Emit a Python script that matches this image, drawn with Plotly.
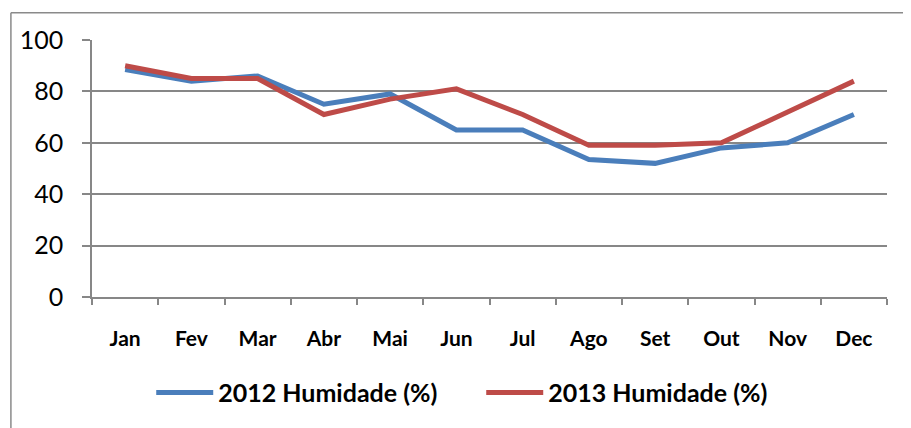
import plotly.graph_objects as go

months = ["Jan", "Fev", "Mar", "Abr", "Mai", "Jun", "Jul", "Ago", "Set", "Out", "Nov", "Dec"]
hum_2012 = [88.5, 84, 86, 75, 79, 65, 65, 53.5, 52, 58, 60, 71]
hum_2013 = [90, 85, 85, 71, 77, 81, 71, 59, 59, 60, 72, 84]
y_ticks = [0, 20, 40, 60, 80, 100]

blue = "#4A7EBB"
red = "#BE4B48"
grid = "#878787"
font = "Lato"

fig = go.Figure()
fig.add_trace(go.Scatter(x=months, y=hum_2012, mode="lines", name="2012 Humidade (%)",
                         line=dict(color=blue, width=5)))
fig.add_trace(go.Scatter(x=months, y=hum_2013, mode="lines", name="2013 Humidade (%)",
                         line=dict(color=red, width=5)))

# page body has an 8px margin, so the figure is 903x420 drawn at (8, 8)
fig.update_layout(
    width=903, height=420,
    margin=dict(l=82, r=24, t=31.5, b=128),
    paper_bgcolor="white", plot_bgcolor="white",
    font=dict(family=font, color="black"),
    showlegend=True,
    legend=dict(orientation="h", x=0.0745, xanchor="left", y=-0.373, yanchor="middle",
                font=dict(family=font, size=25, color="black", weight="bold"),
                itemwidth=57, entrywidth=258, tracegroupgap=0),
    xaxis=dict(type="category", showgrid=False, showline=True, linecolor=grid, linewidth=1.5,
               ticks="outside", tickson="boundaries", ticklen=6, tickcolor=grid, tickwidth=1.5,
               tickfont=dict(family=font, size=21, color="black", weight="bold"),
               ticklabelstandoff=22, range=[-0.5, 11.5]),
    yaxis=dict(range=[0, 100], tickvals=y_ticks, showgrid=True, gridcolor=grid, gridwidth=1.5,
               showline=True, linecolor=grid, linewidth=1.5, ticks="outside", ticklen=8,
               tickcolor=grid, tickwidth=1.5, zeroline=False,
               tickfont=dict(family=font, size=25, color="black"), ticklabelstandoff=14),
    shapes=[
        dict(type="line", xref="paper", yref="paper", x0=-0.102, x1=1.2, y0=1.1056, y1=1.1056,
             line=dict(color="#8a8a8a", width=1.5)),
        dict(type="line", xref="paper", yref="paper", x0=-0.102, x1=-0.102, y0=1.1056, y1=-0.6,
             line=dict(color="#8a8a8a", width=1.5)),
    ],
)

fig.write_html("out.html")
